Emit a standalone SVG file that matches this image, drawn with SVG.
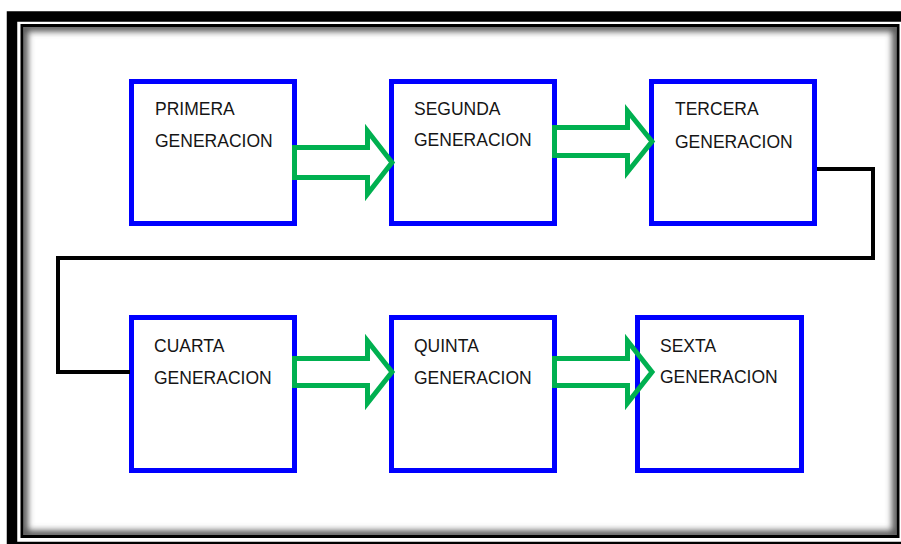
<svg xmlns="http://www.w3.org/2000/svg" width="901" height="544" viewBox="0 0 901 544">
  <style>
    .box { fill: #ffffff; stroke: #0000ff; stroke-width: 5; }
    .lbl { font-family: "Liberation Sans", Arial, sans-serif; font-size: 17.5px; fill: #151515; }
    .arrow { fill: none; stroke: #00b050; stroke-width: 5; stroke-linejoin: miter; stroke-miterlimit: 10; }
    .link { fill: none; stroke: #000000; stroke-width: 4; stroke-linejoin: miter; }
  </style>
  <defs>
    <clipPath id="inner"><rect x="23.5" y="27" width="873" height="508"/></clipPath>
    <filter id="soft" x="-5%" y="-5%" width="110%" height="110%"><feGaussianBlur stdDeviation="3"/></filter>
  </defs>

  <rect x="0" y="0" width="901" height="544" fill="#ffffff"/>

  <g id="frame">
    <rect x="12" y="16.5" width="900" height="530.5" fill="none" stroke="#000000" stroke-width="10.5"/>
    <g clip-path="url(#inner)">
      <rect x="23.5" y="27" width="873" height="508" fill="none" stroke="#555555" stroke-width="9" filter="url(#soft)"/>
    </g>
    <rect x="22" y="25.5" width="876" height="511" fill="none" stroke="#000000" stroke-width="3"/>
  </g>

  <g id="n1">
    <rect class="box" x="131.5" y="81.5" width="163" height="142"/>
    <text class="lbl" x="155" y="115">PRIMERA</text>
    <text class="lbl" x="155" y="147">GENERACION</text>
  </g>
  <g id="n2">
    <rect class="box" x="391.5" y="81.5" width="163" height="142"/>
    <text class="lbl" x="414" y="115">SEGUNDA</text>
    <text class="lbl" x="414" y="146">GENERACION</text>
  </g>
  <g id="n3">
    <rect class="box" x="651.5" y="81.5" width="163" height="142"/>
    <text class="lbl" x="675" y="115">TERCERA</text>
    <text class="lbl" x="675" y="148">GENERACION</text>
  </g>
  <g id="n4">
    <rect class="box" x="131.5" y="317.5" width="163" height="153"/>
    <text class="lbl" x="154" y="352">CUARTA</text>
    <text class="lbl" x="154" y="384">GENERACION</text>
  </g>
  <g id="n5">
    <rect class="box" x="391.5" y="317.5" width="163" height="153"/>
    <text class="lbl" x="414" y="352">QUINTA</text>
    <text class="lbl" x="414" y="384">GENERACION</text>
  </g>
  <g id="n6">
    <rect class="box" x="637.5" y="317.5" width="164" height="153"/>
    <text class="lbl" x="660" y="352">SEXTA</text>
    <text class="lbl" x="660" y="383">GENERACION</text>
  </g>

  <g id="connectors">
    <polygon class="arrow" points="294.5,147.5 367.5,147.5 367.5,131 392,162.5 367.5,194 367.5,177.5 294.5,177.5"/>
    <polygon class="arrow" points="554.5,127.5 627.5,127.5 627.5,111 652,141.5 627.5,172 627.5,155.5 554.5,155.5"/>
    <path class="link" d="M817,169 H873 V258 H58 V372 H130"/>
    <polygon class="arrow" points="294.5,358.5 367.5,358.5 367.5,341 392,372 367.5,403 367.5,385.5 294.5,385.5"/>
    <polygon class="arrow" points="554.5,358.5 627.5,358.5 627.5,341 652,372 627.5,403 627.5,385.5 554.5,385.5"/>
  </g>
</svg>
